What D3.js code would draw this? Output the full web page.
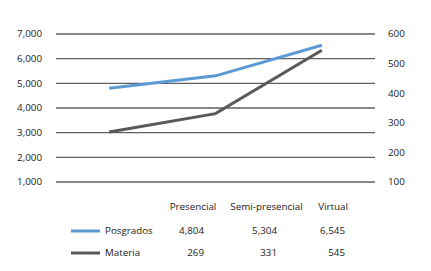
<!DOCTYPE html>
<html><head><meta charset="utf-8">
<script src="https://cdn.jsdelivr.net/npm/d3@7"></script>
<style>
body{margin:0;background:#fff;}
text{font-family:"Open Sans",sans-serif;fill:#222;}
</style></head>
<body><svg id="c" width="431" height="271"></svg>
<script>
const categories = ["Presencial","Semi-presencial","Virtual"];
const posgrados = [4804,5304,6545];
const materia = [269,331,545];
const leftTicks = [1000,2000,3000,4000,5000,6000,7000];
const rightTicks = [100,200,300,400,500,600];
const seriesNames = ["Posgrados","Materia"];
const colors = ["#5b9bd5","#5a5a5a"];

const svg = d3.select("#c");
const x = d3.scaleBand().domain(categories).range([56,375]);
const yL = d3.scaleLinear().domain([1000,7000]).range([182,34]);
const yR = d3.scaleLinear().domain([100,600]).range([182,34]);
const fmt = d3.format(",");

svg.append("g").selectAll("line").data(leftTicks).join("line")
  .attr("x1",56).attr("x2",375)
  .attr("y1",d=>yL(d)).attr("y2",d=>yL(d))
  .attr("stroke","#5f5f5f").attr("stroke-width",1.4);

svg.append("g").selectAll("text").data(leftTicks).join("text")
  .attr("x",42).attr("y",d=>yL(d)).attr("dy","0.35em")
  .attr("text-anchor","end").attr("font-size",9.8).text(d=>fmt(d));
svg.append("g").selectAll("text").data(rightTicks).join("text")
  .attr("x",388).attr("y",d=>yR(d)).attr("dy","0.35em")
  .attr("text-anchor","start").attr("font-size",9.8).text(d=>d);

const cx = d=>x(d)+x.bandwidth()/2;
const lineL = d3.line().x((d,i)=>cx(categories[i])).y(d=>yL(d));
const lineR = d3.line().x((d,i)=>cx(categories[i])).y(d=>yR(d));
svg.append("path").attr("d",lineR(materia)).attr("fill","none")
  .attr("stroke",colors[1]).attr("stroke-width",3);
svg.append("path").attr("d",lineL(posgrados)).attr("fill","none")
  .attr("stroke",colors[0]).attr("stroke-width",3);

const headerCenters = [193,266.5,333];
svg.append("g").selectAll("text").data(categories).join("text")
  .attr("x",(d,i)=>headerCenters[i]).attr("y",207).attr("dy","0.35em")
  .attr("text-anchor","middle").attr("font-size",9.8).text(d=>d);
const valRight = [204,277,345];
const rows = [posgrados, materia];
const rowY = [231,253];
rows.forEach((vals,r)=>{
  svg.append("line").attr("x1",71).attr("x2",100).attr("y1",rowY[r]).attr("y2",rowY[r])
    .attr("stroke",colors[r]).attr("stroke-width",3);
  svg.append("text").attr("x",105).attr("y",rowY[r]).attr("dy","0.35em")
    .attr("font-size",9.8).text(seriesNames[r]);
  svg.append("g").selectAll("text").data(vals).join("text")
    .attr("x",(d,i)=>valRight[i]).attr("y",rowY[r]).attr("dy","0.35em")
    .attr("text-anchor","end").attr("font-size",9.8).text(d=>fmt(d));
});
</script></body></html>
